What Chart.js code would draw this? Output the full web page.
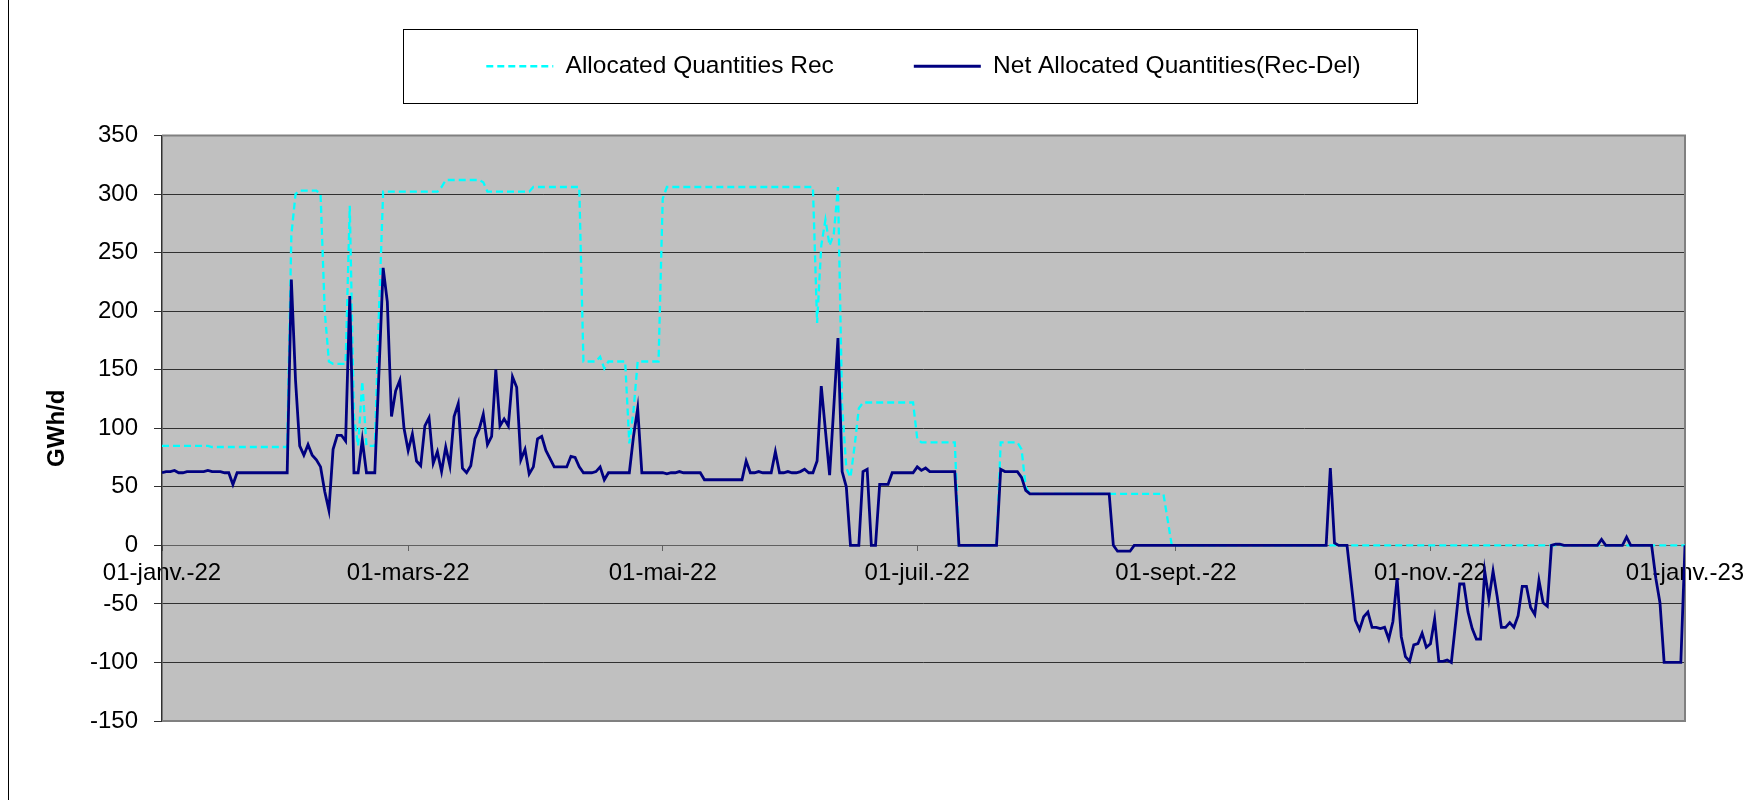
<!DOCTYPE html>
<html>
<head>
<meta charset="utf-8">
<script src="https://cdn.jsdelivr.net/npm/chart.js@4.4.1/dist/chart.umd.min.js"></script>
<style>
  html, body { margin: 0; padding: 0; background: #ffffff; overflow: hidden; }
  canvas { display: block; }
</style>
</head>
<body>
<canvas id="c" width="1753" height="800"></canvas>
<script>
// ---- DATA ----
// categories: day index counted from 01-janv.-22 (0) to 01-janv.-23 (365)
const days = [];
for (let i = 0; i <= 365; i++) days.push(i);

const seriesNames = ['Allocated Quantities Rec', 'Net Allocated Quantities(Rec-Del)'];

const allocatedRec = [
  85,85,85,85,85,85,85,85,85,85,
  85,85,84,84,84,84,84,84,84,84,
  84,84,84,84,84,84,84,84,84,84,
  84,265,300,303,303,303,303,303,300,200,
  157,155,155,155,155,290,110,85,140,85,
  85,85,200,302,302,302,302,302,302,302,
  302,302,302,302,302,302,302,306,312,312,
  312,312,312,312,312,312,312,310,302,302,
  302,302,302,302,302,302,302,302,302,306,
  306,306,306,306,306,306,306,306,306,306,
  306,157,157,157,157,161,151,157,157,157,
  157,157,87,115,157,157,157,157,157,157,
  296,306,306,306,306,306,306,306,306,306,
  306,306,306,306,306,306,306,306,306,306,
  306,306,306,306,306,306,306,306,306,306,
  306,306,306,306,306,306,306,190,256,278,
  256,266,306,120,66,58,85,117,122,122,
  122,122,122,122,122,122,122,122,122,122,
  122,91,88,88,88,88,88,88,88,88,
  88,0,0,0,0,0,0,0,0,0,
  0,88,88,88,88,88,82,50,44,44,
  44,44,44,44,44,44,44,44,44,44,
  44,44,44,44,44,44,44,44,44,44,
  44,44,44,44,44,44,44,44,44,44,
  44,22,0,0,0,0,0,0,0,0,
  0,0,0,0,0,0,0,0,0,0,
  0,0,0,0,0,0,0,0,0,0,
  0,0,0,0,0,0,0,0,0,0,
  0,0,0,0,0,0,0,0,0,0,
  0,0,0,0,0,0,0,0,0,0,
  0,0,0,0,0,0,0,0,0,0,
  0,0,0,0,0,0,0,0,0,0,
  0,0,0,0,0,0,0,0,0,0,
  0,0,0,0,0,0,0,0,0,0,
  0,0,0,0,0,0,0,0,0,0,
  0,0,0,0,0,0,0,0,0,0,
  0,0,0,0,0,0
];

const netAllocated = [
  62,63,63,64,62,62,63,63,63,63,
  63,64,63,63,63,62,62,52,62,62,
  62,62,62,62,62,62,62,62,62,62,
  62,227,141,85,77,86,77,73,67,46,
  30,82,94,94,89,213,62,62,90,62,
  62,62,148,237,208,110,132,141,100,81,
  95,72,68,102,109,70,80,63,84,68,
  110,121,66,62,68,91,99,112,86,93,
  150,102,108,102,144,135,73,82,61,67,
  91,93,81,74,67,67,67,67,76,75,
  67,62,62,62,63,67,56,62,62,62,
  62,62,62,93,117,62,62,62,62,62,
  62,61,62,62,63,62,62,62,62,62,
  56,56,56,56,56,56,56,56,56,56,
  72,62,62,63,62,62,62,80,62,62,
  63,62,62,63,65,62,62,72,136,98,
  60,118,177,63,50,0,0,0,63,65,
  0,0,52,52,52,62,62,62,62,62,
  62,67,64,66,63,63,63,63,63,63,
  63,0,0,0,0,0,0,0,0,0,
  0,65,63,63,63,63,58,47,44,44,
  44,44,44,44,44,44,44,44,44,44,
  44,44,44,44,44,44,44,44,0,-5,
  -5,-5,-5,0,0,0,0,0,0,0,
  0,0,0,0,0,0,0,0,0,0,
  0,0,0,0,0,0,0,0,0,0,
  0,0,0,0,0,0,0,0,0,0,
  0,0,0,0,0,0,0,0,0,0,
  66,2,0,0,0,-32,-64,-72,-61,-57,
  -70,-70,-71,-70,-80,-65,-28,-78,-95,-99,
  -85,-84,-75,-87,-84,-63,-99,-99,-98,-100,
  -67,-33,-33,-57,-71,-80,-80,-22,-46,-22,
  -44,-70,-70,-66,-70,-60,-35,-35,-53,-59,
  -30,-49,-52,0,1,1,0,0,0,0,
  0,0,0,0,0,5,0,0,0,0,
  0,7,0,0,0,0,0,0,-28,-49,
  -100,-100,-100,-100,-100,0
];

const tickDays = [0, 59, 120, 181, 243, 304, 365];
const tickLabels = ['01-janv.-22', '01-mars-22', '01-mai-22', '01-juil.-22', '01-sept.-22', '01-nov.-22', '01-janv.-23'];
const yTitle = 'GWh/d';

// ---- STYLE / LAYOUT ----
Chart.defaults.font.family = "'Liberation Sans', Arial, sans-serif";
Chart.defaults.font.size = 24;
Chart.defaults.color = '#000000';

const defaultGenerateLabels = Chart.defaults.plugins.legend.labels.generateLabels;

const framePlugin = {
  id: 'framePlugin',
  beforeDraw(chart) {
    const ctx = chart.ctx;
    const a = chart.chartArea;
    ctx.save();
    ctx.fillStyle = '#ffffff';
    ctx.fillRect(0, 0, chart.width, chart.height);
    // outer frame line on the left
    ctx.strokeStyle = '#000000';
    ctx.lineWidth = 1;
    ctx.beginPath();
    ctx.moveTo(8.5, 0);
    ctx.lineTo(8.5, chart.height);
    ctx.stroke();
    // plot background
    ctx.fillStyle = '#C0C0C0';
    ctx.fillRect(a.left, a.top, a.right - a.left, a.bottom - a.top);
    // legend frame
    const hb = chart.legend && chart.legend.legendHitBoxes;
    if (hb && hb.length) {
      const first = hb[0], last = hb[hb.length - 1];
      const cy = first.top + first.height / 2;
      const l = Math.round(first.left - 83) + 0.5;
      const r = Math.round(last.left + last.width + 56) + 0.5;
      const t = Math.round(cy - 37) + 0.5;
      const b = Math.round(cy + 37) + 0.5;
      ctx.fillStyle = '#ffffff';
      ctx.fillRect(l, t, r - l, b - t);
      ctx.strokeStyle = '#000000';
      ctx.lineWidth = 1;
      ctx.strokeRect(l, t, r - l, b - t);
    }
    ctx.restore();
  },
  beforeDatasetsDraw(chart) {
    const ctx = chart.ctx;
    const a = chart.chartArea;
    ctx.save();
    ctx.strokeStyle = '#808080';
    ctx.lineWidth = 2;
    ctx.beginPath();
    ctx.moveTo(a.left, a.top);
    ctx.lineTo(a.right, a.top);
    ctx.lineTo(a.right, a.bottom);
    ctx.lineTo(a.left, a.bottom);
    ctx.stroke();
    ctx.restore();
  }
};

new Chart(document.getElementById('c'), {
  type: 'line',
  data: {
    labels: days,
    datasets: [
      {
        label: seriesNames[0],
        data: allocatedRec,
        borderColor: '#00FFFF',
        backgroundColor: '#00FFFF',
        borderWidth: 2.3,
        borderDash: [7, 4],
        pointRadius: 0,
        fill: false,
        tension: 0,
        order: 1
      },
      {
        label: seriesNames[1],
        data: netAllocated,
        borderColor: '#000080',
        backgroundColor: '#000080',
        borderWidth: 2.8,
        pointRadius: 0,
        fill: false,
        tension: 0,
        order: 0
      }
    ]
  },
  options: {
    responsive: false,
    animation: false,
    events: [],
    layout: { padding: { top: -26, left: 0, right: 68, bottom: 79 } },
    plugins: {
      tooltip: { enabled: false },
      title: {
        display: true,
        text: '',
        weight: 500,
        font: { size: 1, lineHeight: 1 },
        padding: { top: 0, bottom: 46 }
      },
      legend: {
        display: true,
        position: 'top',
        fullSize: false,
        align: 'center',
        labels: {
          usePointStyle: true,
          pointStyle: 'line',
          pointStyleWidth: 67,
          padding: 80,
          color: '#000000',
          font: { size: 24.5 },
          sort: (a, b) => a.datasetIndex - b.datasetIndex,
          generateLabels: (chart) => defaultGenerateLabels(chart).map(item => {
            const ds = chart.data.datasets[item.datasetIndex];
            item.lineDash = ds.borderDash || [];
            item.lineWidth = ds.borderWidth;
            item.strokeStyle = ds.borderColor;
            item.fillStyle = ds.borderColor;
            item.pointStyle = 'line';
            return item;
          })
        }
      }
    },
    scales: {
      x: {
        type: 'linear',
        position: { y: 0 },
        min: 0,
        max: 365,
        afterBuildTicks: (s) => { s.ticks = tickDays.map(v => ({ value: v })); },
        afterFit: (s) => { s.paddingLeft = 0; s.paddingRight = 0; },
        ticks: {
          autoSkip: false,
          maxRotation: 0,
          padding: 9,
          color: '#000000',
          font: { size: 24 },
          callback: (v) => { const i = tickDays.indexOf(v); return i >= 0 ? tickLabels[i] : null; }
        },
        grid: {
          display: true,
          drawOnChartArea: false,
          drawTicks: true,
          tickLength: 5,
          color: '#606060'
        },
        border: { display: true, color: '#606060', width: 1 }
      },
      y: {
        min: -150,
        max: 350,
        afterFit: (s) => { s.width = 162; s.paddingTop = 0; s.paddingBottom = 0; },
        ticks: {
          stepSize: 50,
          padding: 16,
          color: '#000000',
          font: { size: 24 }
        },
        grid: {
          color: '#303030',
          lineWidth: 1,
          drawTicks: true,
          tickLength: 8,
          tickColor: '#303030'
        },
        border: { display: true, color: '#303030', width: 1.5 },
        title: {
          display: true,
          text: yTitle,
          color: '#000000',
          font: { size: 24, weight: 'bold' },
          padding: { top: 43, bottom: 0 }
        }
      }
    }
  },
  plugins: [framePlugin]
});
</script>
</body>
</html>
